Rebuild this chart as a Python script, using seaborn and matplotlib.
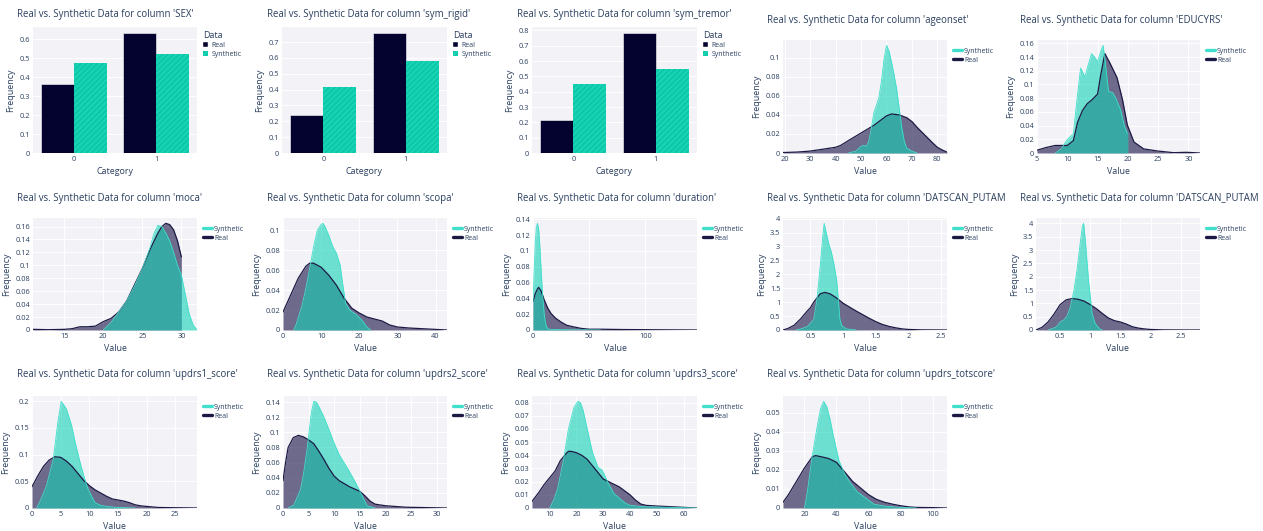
import pandas as pd
import seaborn as sns
import matplotlib.pyplot as plt
from matplotlib.lines import Line2D
from matplotlib.patches import Patch
from matplotlib.ticker import MultipleLocator, FuncFormatter

# ---- bar panels (category frequencies) ----
categories = ['0', '1']
sex_real = [0.365, 0.633]
sex_syn = [0.474, 0.522]
rigid_real = [0.242, 0.757]
rigid_syn = [0.416, 0.578]
tremor_real = [0.217, 0.783]
tremor_syn = [0.452, 0.548]

# ---- density panels (x, y) ----
ageonset_real_x = [19.3, 25, 30, 35, 40, 42, 45, 50, 55, 58, 60, 62, 65, 68, 70, 72, 75, 78, 80, 82, 83.8]
ageonset_real_y = [0.0005, 0.001, 0.002, 0.004, 0.006, 0.008, 0.013, 0.021, 0.029, 0.035, 0.039, 0.041, 0.040,
                   0.037, 0.033, 0.027, 0.019, 0.011, 0.006, 0.003, 0.001]
ageonset_syn_x = [45, 48, 50, 51, 52, 53, 54, 55, 56, 57, 58, 59, 60, 61, 62, 63, 64, 65, 66, 67, 68, 70, 72]
ageonset_syn_y = [0.0, 0.002, 0.007, 0.008, 0.007, 0.012, 0.025, 0.042, 0.05, 0.058, 0.075, 0.098, 0.113, 0.107,
                  0.095, 0.082, 0.067, 0.047, 0.027, 0.012, 0.005, 0.002, 0.0]

educ_real_x = [5, 6.5, 8, 10, 11, 11.7, 12.5, 13.3, 14, 15, 15.5, 16.2, 17.1, 18.2, 19.1, 19.9, 21, 22.6, 24.8,
               27.5, 29.7, 31.9]
educ_real_y = [0.004, 0.008, 0.011, 0.011, 0.018, 0.045, 0.062, 0.072, 0.077, 0.086, 0.113, 0.145, 0.130, 0.110,
               0.078, 0.041, 0.016, 0.006, 0.003, 0.0005, 0.001, 0.0]
educ_syn_x = [8, 9, 10, 11, 11.5, 12.2, 12.9, 13.5, 14.0, 14.5, 15.0, 15.5, 15.9, 16.3, 16.8, 17.5, 18.0, 18.8,
              19.4, 19.9, 20.0]
educ_syn_y = [0.0, 0.006, 0.02, 0.028, 0.07, 0.124, 0.111, 0.13, 0.145, 0.14, 0.133, 0.148, 0.157, 0.13, 0.09,
              0.088, 0.08, 0.063, 0.04, 0.029, 0.029]

moca_real_x = [11, 13, 15, 16, 17, 18, 19, 20, 21, 22, 23, 24, 25, 26, 27, 27.5, 28, 28.5, 29, 29.5, 30]
moca_real_y = [0.001, 0.0005, 0.001, 0.002, 0.005, 0.005, 0.006, 0.013, 0.018, 0.028, 0.045, 0.07, 0.095, 0.125,
               0.15, 0.16, 0.165, 0.163, 0.155, 0.138, 0.113]
moca_syn_x = [20, 21, 22, 23, 24, 25, 26, 26.5, 27, 27.5, 28, 28.5, 29, 29.5, 30, 30.5, 31, 31.5, 32]
moca_syn_y = [0.0, 0.012, 0.028, 0.045, 0.068, 0.095, 0.128, 0.15, 0.162, 0.16, 0.15, 0.138, 0.12, 0.1, 0.085,
              0.055, 0.025, 0.008, 0.0]

scopa_real_x = [0, 2, 4, 6, 7, 8, 10, 12, 14, 16, 18, 20, 22, 24, 26, 28, 30, 33, 38, 43]
scopa_real_y = [0.018, 0.035, 0.052, 0.064, 0.067, 0.067, 0.063, 0.055, 0.045, 0.032, 0.022, 0.017, 0.013, 0.011,
                0.009, 0.005, 0.003, 0.002, 0.001, 0.0]
scopa_syn_x = [2.8, 3.5, 5, 6, 7, 8, 9, 10, 10.5, 11, 12, 13, 14, 15, 15.5, 16.4, 17.5, 19, 20.7, 22, 23]
scopa_syn_y = [0.0, 0.006, 0.025, 0.042, 0.062, 0.083, 0.1, 0.106, 0.107, 0.104, 0.095, 0.084, 0.077, 0.065, 0.05,
               0.027, 0.02, 0.016, 0.01, 0.003, 0.0]

duration_real_x = [0, 2, 4, 5, 7, 10, 13, 16, 20, 25, 30, 36, 43, 50, 60, 80, 100, 120, 146]
duration_real_y = [0.036, 0.046, 0.052, 0.054, 0.05, 0.038, 0.028, 0.021, 0.015, 0.01, 0.006, 0.004, 0.002, 0.001,
                   0.001, 0.0006, 0.0004, 0.0002, 0.0]
duration_syn_x = [0, 1, 2, 3, 4, 5, 6, 7, 8, 9, 10, 11, 12, 14, 20, 40, 60]
duration_syn_y = [0.035, 0.075, 0.11, 0.13, 0.135, 0.128, 0.108, 0.082, 0.057, 0.036, 0.02, 0.01, 0.004, 0.001,
                  0.0005, 0.0002, 0.0]

putam1_real_x = [0.08, 0.15, 0.25, 0.35, 0.45, 0.5, 0.55, 0.65, 0.72, 0.8, 0.9, 1.0, 1.1, 1.2, 1.3, 1.4, 1.5, 1.6,
                 1.7, 1.8, 1.9, 2.0, 2.2, 2.59]
putam1_real_y = [0.0, 0.05, 0.17, 0.4, 0.68, 0.8, 1.0, 1.3, 1.35, 1.3, 1.15, 0.96, 0.82, 0.68, 0.55, 0.42, 0.3,
                 0.2, 0.13, 0.08, 0.04, 0.02, 0.005, 0.0]
putam1_syn_x = [0.28, 0.35, 0.45, 0.5, 0.55, 0.6, 0.65, 0.69, 0.71, 0.74, 0.78, 0.82, 0.86, 0.9, 0.93, 0.95, 0.98,
                1.05, 1.2]
putam1_syn_y = [0.0, 0.04, 0.12, 0.25, 0.38, 1.1, 2.3, 3.4, 3.83, 3.5, 3.1, 2.8, 2.35, 1.8, 1.0, 0.4, 0.15, 0.04, 0.0]

putam2_real_x = [0.1, 0.2, 0.3, 0.4, 0.5, 0.6, 0.7, 0.8, 0.9, 1.0, 1.1, 1.2, 1.3, 1.4, 1.5, 1.6, 1.7, 1.8, 1.9,
                 2.0, 2.2, 2.5, 2.82]
putam2_real_y = [0.0, 0.1, 0.3, 0.6, 0.95, 1.13, 1.18, 1.15, 1.08, 0.95, 0.8, 0.62, 0.45, 0.35, 0.3, 0.22, 0.12,
                 0.07, 0.04, 0.02, 0.005, 0.001, 0.0]
putam2_syn_x = [0.3, 0.4, 0.44, 0.5, 0.555, 0.61, 0.67, 0.73, 0.78, 0.83, 0.87, 0.89, 0.92, 0.97, 1.03, 1.08,
                1.16, 1.2]
putam2_syn_y = [0.0, 0.08, 0.12, 0.3, 0.37, 0.5, 0.87, 1.5, 2.25, 3.2, 3.9, 4.0, 3.3, 1.87, 0.62, 0.25, 0.03, 0.0]

updrs1_real_x = [0, 1, 2, 3, 4, 5, 6, 7, 8, 9, 10, 11, 12, 13, 14, 15, 16, 17, 18, 19, 20, 22, 25, 28.8]
updrs1_real_y = [0.04, 0.06, 0.078, 0.09, 0.096, 0.095, 0.088, 0.078, 0.065, 0.052, 0.042, 0.034, 0.028, 0.022,
                 0.017, 0.015, 0.013, 0.01, 0.006, 0.004, 0.003, 0.001, 0.0005, 0.0]
updrs1_syn_x = [0.8, 1.3, 2.5, 3.7, 4.5, 5.1, 6.0, 6.9, 7.6, 8.4, 9.1, 9.8, 11, 12, 13, 15, 18]
updrs1_syn_y = [0.0, 0.01, 0.041, 0.091, 0.16, 0.2, 0.186, 0.155, 0.12, 0.085, 0.058, 0.035, 0.01, 0.005, 0.003,
                0.001, 0.0]

updrs2_real_x = [0, 0.5, 1, 2, 3, 4, 5, 6, 7, 8, 9, 10, 11, 12, 13, 14, 15, 16, 17, 18, 19, 20, 22, 24, 28, 32]
updrs2_real_y = [0.036, 0.06, 0.08, 0.093, 0.096, 0.094, 0.09, 0.085, 0.075, 0.064, 0.052, 0.042, 0.036, 0.032,
                 0.028, 0.025, 0.022, 0.016, 0.009, 0.005, 0.004, 0.003, 0.002, 0.001, 0.0005, 0.0]
updrs2_syn_x = [1, 2.1, 3.4, 4, 4.7, 5.5, 6, 6.5, 7, 8, 9, 9.9, 11, 11.9, 12.8, 13.8, 14.8, 15.8, 16.4, 18]
updrs2_syn_y = [0.0, 0.004, 0.024, 0.045, 0.078, 0.125, 0.141, 0.14, 0.134, 0.12, 0.103, 0.087, 0.07, 0.06, 0.05,
                0.038, 0.025, 0.011, 0.003, 0.0]

updrs3_real_x = [3.4, 6, 8, 10, 12, 14, 16, 17, 18, 20, 22, 24, 26, 28, 30, 32, 34, 36, 38, 40, 42, 44, 46, 50,
                 55, 60, 65]
updrs3_real_y = [0.005, 0.012, 0.018, 0.023, 0.028, 0.036, 0.041, 0.043, 0.043, 0.042, 0.04, 0.037, 0.032, 0.027,
                 0.022, 0.02, 0.018, 0.016, 0.013, 0.01, 0.006, 0.003, 0.002, 0.0015, 0.001, 0.0005, 0.0]
updrs3_syn_x = [10, 11.5, 13, 15.2, 17, 19, 20.5, 21.5, 22.5, 24, 26, 28, 29.5, 30.5, 31.8, 34, 36, 38, 40, 45,
                55, 65]
updrs3_syn_y = [0.0, 0.006, 0.015, 0.037, 0.06, 0.076, 0.081, 0.08, 0.074, 0.06, 0.042, 0.031, 0.029, 0.025,
                0.019, 0.011, 0.0075, 0.004, 0.002, 0.001, 0.0005, 0.0]

updrstot_real_x = [6.6, 10, 15, 20, 25, 27, 30, 35, 40, 45, 50, 55, 60, 65, 70, 75, 80, 85, 90, 100, 109]
updrstot_real_y = [0.003, 0.007, 0.014, 0.021, 0.027, 0.0275, 0.027, 0.026, 0.024, 0.019, 0.014, 0.0105, 0.007,
                   0.0045, 0.003, 0.002, 0.0012, 0.0006, 0.0003, 0.0002, 0.0]
updrstot_syn_x = [20, 21.7, 24.8, 28, 30, 32, 34, 36, 38, 41.5, 45, 48.8, 53, 57, 63.4, 70, 80, 90]
updrstot_syn_y = [0.0, 0.008, 0.027, 0.043, 0.052, 0.056, 0.053, 0.0465, 0.038, 0.025, 0.018, 0.013, 0.0085,
                  0.006, 0.002, 0.001, 0.0003, 0.0]

# ---- styling ----
REAL_BAR = '#04022f'
SYN_BAR = '#14d4b4'
SYN_HATCH = '#0db89e'
REAL_FILL = '#160f44'
REAL_LINE = '#1c1a45'
SYN_FILL = '#13d3b6'
SYN_LINE = '#40e0cc'
TEXT = '#2a3f5f'
BG = '#f2f2f7'

TITLE_FS = 6.9
LABEL_FS = 6.4
TICK_FS = 5.3
LEG_FS = 5.0

W, H = 1263, 531

sns.set_theme(style='white')
plt.rcParams['font.family'] = ['Open Sans', 'DejaVu Sans']
plt.rcParams['hatch.linewidth'] = 0.6

fig = plt.figure(figsize=(W / 100, H / 100), dpi=100)
fmt = FuncFormatter(lambda v, p: f'{v:g}')


def add_ax(l, t, r, b):
    return fig.add_axes([l / W, 1 - b / H, (r - l) / W, (b - t) / H])


def base_style(ax, ystep):
    ax.set_facecolor(BG)
    for s in ax.spines.values():
        s.set_visible(False)
    ax.yaxis.set_major_locator(MultipleLocator(ystep))
    ax.yaxis.set_major_formatter(fmt)
    ax.set_axisbelow(True)
    ax.tick_params(length=0, labelsize=TICK_FS, colors=TEXT, pad=2)
    ax.set_ylabel('Frequency', fontsize=LABEL_FS, color=TEXT, labelpad=3)


def bar_panel(rect, title_xy, name, real, syn):
    ax = add_ax(*rect)
    df = pd.DataFrame({'Category': categories * 2,
                       'Frequency': real + syn,
                       'Data': ['Real'] * len(real) + ['Synthetic'] * len(syn)})
    sns.barplot(data=df, x='Category', y='Frequency', hue='Data', ax=ax,
                palette={'Real': REAL_BAR, 'Synthetic': SYN_BAR}, saturation=1,
                width=0.8, edgecolor='white', linewidth=0.4)
    for p in ax.containers[1]:
        p.set_hatch('//////')
        p.set_edgecolor(SYN_HATCH)
        p.set_linewidth(0)
    ax.set_xlim(-0.5, 1.5)
    ax.set_ylim(0, max(real + syn) * 1.05)
    base_style(ax, 0.1)
    ax.grid(True, axis='y', color='white', linewidth=0.7)
    ax.set_xlabel('Category', fontsize=LABEL_FS, color=TEXT, labelpad=3)
    handles = [Patch(facecolor=REAL_BAR, edgecolor='white', linewidth=0.3),
               Patch(facecolor=SYN_BAR, edgecolor=SYN_HATCH, hatch='//////', linewidth=0)]
    leg = ax.legend(handles, ['Real', 'Synthetic'], title='Data', loc='upper left',
                    bbox_to_anchor=(1.01, 1.0), frameon=False, fontsize=LEG_FS,
                    title_fontsize=LABEL_FS, handlelength=0.8, handleheight=0.8,
                    handletextpad=0.5, labelspacing=0.25, borderaxespad=0.2)
    leg._legend_box.align = 'left'
    for t in leg.get_texts():
        t.set_color(TEXT)
    leg.get_title().set_color(TEXT)
    fig.text(title_xy[0] / W, 1 - title_xy[1] / H, f"Real vs. Synthetic Data for column '{name}'",
             fontsize=TITLE_FS, color=TEXT, va='center', ha='left')


def kde_panel(rect, title_xy, title, rx, ry, sx, sy, ystep, xstep):
    ax = add_ax(*rect)
    ax.fill_between(rx, ry, color=REAL_FILL, alpha=0.6, linewidth=0)
    sns.lineplot(x=rx, y=ry, ax=ax, color=REAL_LINE, linewidth=0.9, estimator=None)
    ax.fill_between(sx, sy, color=SYN_FILL, alpha=0.6, linewidth=0)
    sns.lineplot(x=sx, y=sy, ax=ax, color=SYN_LINE, linewidth=0.6, estimator=None)
    ax.set_xlim(min(rx + sx), max(rx + sx))
    ax.set_ylim(0, max(ry + sy) * 1.05)
    base_style(ax, ystep)
    ax.xaxis.set_major_locator(MultipleLocator(xstep))
    ax.xaxis.set_major_formatter(fmt)
    ax.grid(True, color='white', linewidth=0.7)
    ax.set_xlabel('Value', fontsize=LABEL_FS, color=TEXT, labelpad=3)
    handles = [Line2D([0], [0], color=SYN_LINE, lw=2.4), Line2D([0], [0], color=REAL_LINE, lw=2.4)]
    leg = ax.legend(handles, ['Synthetic', 'Real'], loc='upper left', bbox_to_anchor=(1.01, 0.97),
                    frameon=False, fontsize=LEG_FS, handlelength=1.3, handletextpad=0.3,
                    labelspacing=0.3, borderaxespad=0.2)
    for t in leg.get_texts():
        t.set_color(TEXT)
    fig.text(title_xy[0] / W, 1 - title_xy[1] / H, title, fontsize=TITLE_FS, color=TEXT,
             va='center', ha='left')


bar_panel((33, 27, 197, 153), (17, 14), 'SEX', sex_real, sex_syn)
bar_panel((282, 27, 447, 153), (267, 14), 'sym_rigid', rigid_real, rigid_syn)
bar_panel((532, 27, 697, 153), (517, 14), 'sym_tremor', tremor_real, tremor_syn)

kde_panel((783, 40, 947, 153), (767, 20), "Real vs. Synthetic Data for column 'ageonset'",
          ageonset_real_x, ageonset_real_y, ageonset_syn_x, ageonset_syn_y, 0.02, 10)
kde_panel((1037, 40, 1200, 153), (1020, 20), "Real vs. Synthetic Data for column 'EDUCYRS'",
          educ_real_x, educ_real_y, educ_syn_x, educ_syn_y, 0.02, 5)

kde_panel((33, 218, 197, 330), (17, 199), "Real vs. Synthetic Data for column 'moca'",
          moca_real_x, moca_real_y, moca_syn_x, moca_syn_y, 0.02, 5)
kde_panel((283, 218, 447, 330), (267, 199), "Real vs. Synthetic Data for column 'scopa'",
          scopa_real_x, scopa_real_y, scopa_syn_x, scopa_syn_y, 0.02, 10)
kde_panel((533, 218, 697, 330), (517, 199), "Real vs. Synthetic Data for column 'duration'",
          duration_real_x, duration_real_y, duration_syn_x, duration_syn_y, 0.02, 50)
kde_panel((783, 218, 947, 330), (767, 199), "Real vs. Synthetic Data for column 'DATSCAN_PUTAM",
          putam1_real_x, putam1_real_y, putam1_syn_x, putam1_syn_y, 0.5, 0.5)
kde_panel((1036, 218, 1200, 330), (1020, 199), "Real vs. Synthetic Data for column 'DATSCAN_PUTAM",
          putam2_real_x, putam2_real_y, putam2_syn_x, putam2_syn_y, 0.5, 0.5)

kde_panel((32, 396, 197, 508), (17, 375), "Real vs. Synthetic Data for column 'updrs1_score'",
          updrs1_real_x, updrs1_real_y, updrs1_syn_x, updrs1_syn_y, 0.05, 5)
kde_panel((283, 396, 447, 508), (267, 375), "Real vs. Synthetic Data for column 'updrs2_score'",
          updrs2_real_x, updrs2_real_y, updrs2_syn_x, updrs2_syn_y, 0.02, 5)
kde_panel((532, 396, 697, 508), (517, 375), "Real vs. Synthetic Data for column 'updrs3_score'",
          updrs3_real_x, updrs3_real_y, updrs3_syn_x, updrs3_syn_y, 0.01, 10)
kde_panel((783, 396, 947, 508), (767, 375), "Real vs. Synthetic Data for column 'updrs_totscore'",
          updrstot_real_x, updrstot_real_y, updrstot_syn_x, updrstot_syn_y, 0.01, 20)

fig.savefig('out.png', dpi=100, facecolor='white')
